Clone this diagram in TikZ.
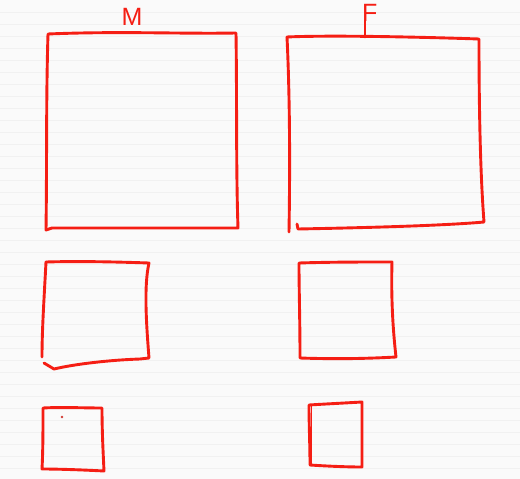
\documentclass[tikz,border=0pt]{standalone}
\usepackage{fontspec}
\setmainfont{Liberation Sans}
\begin{document}
\begin{tikzpicture}[x=1pt,y=-1pt,
  pen/.style={draw=inkred,line width=2.9pt,line cap=round,line join=round},
  lbl/.style={text=inkred,font=\fontsize{25}{25}\selectfont,inner sep=0pt}]
\definecolor{inkred}{RGB}{245,30,20}
\definecolor{paper}{RGB}{250,250,250}
\definecolor{rule}{RGB}{241,241,241}
\fill[paper] (0,0) rectangle (520,479);
\useasboundingbox (0,0) rectangle (520,479);
% faint ruled lines of the background
\foreach \yy in {12,24,...,476}{
  \draw[rule,line width=0.8pt] (0,\yy) -- (520,\yy);
}
% labels
\node[lbl,anchor=south] (mlabel) at (132,26) {M};
\node[lbl,anchor=south west] (flabel) at (362,21.5) {F};
\coordinate (fstem) at (365,21);
% large M box
\draw[pen] (48,34) .. controls (120,31) and (180,34) .. (236,33)
  .. controls (237,100) and (236,170) .. (238,228)
  -- (52,228) -- (46,230)
  .. controls (47,160) and (46,100) .. (48,34);
% large F box
\draw[pen] (fstem) -- (365,37);
\draw[pen] (287,37) .. controls (330,35) and (420,37) .. (479,39)
  .. controls (479,100) and (480,170) .. (484,222)
  .. controls (440,226) and (350,228) .. (298,229) -- (297,224);
\draw[pen] (287,37) .. controls (290,100) and (290,170) .. (289,232);
% medium M box
\draw[pen] (46,262) .. controls (80,261) and (120,262) .. (149,263)
  .. controls (144,285) and (146,320) .. (149,358)
  -- (140,359) .. controls (110,360) and (75,364) .. (54,369) -- (44,363);
\draw[pen] (46,262) .. controls (44,300) and (42,330) .. (42,357);
% medium F box
\draw[pen] (299,263) .. controls (330,262) and (360,262) .. (392,262)
  .. controls (391,300) and (393,330) .. (396,357)
  .. controls (360,359) and (330,359) .. (300,358)
  .. controls (300,320) and (299,290) .. (299,263);
% small M box
\draw[pen] (43,408) .. controls (60,407) and (85,408) .. (102,408)
  .. controls (102,430) and (103,450) .. (104,471)
  .. controls (85,470) and (60,469) .. (42,469)
  .. controls (43,450) and (43,430) .. (43,408);
\fill[inkred!70!gray] (62,417) circle (1.4pt);
% small F box
\draw[pen] (309,405) .. controls (325,404) and (345,403) .. (362,402)
  .. controls (362,425) and (362,445) .. (362,467)
  .. controls (345,467) and (325,466) .. (310,465)
  .. controls (310,445) and (309,425) .. (309,405);
\draw[pen,line width=1.8pt] (311.5,406) -- (311.5,464);
\end{tikzpicture}
\end{document}
